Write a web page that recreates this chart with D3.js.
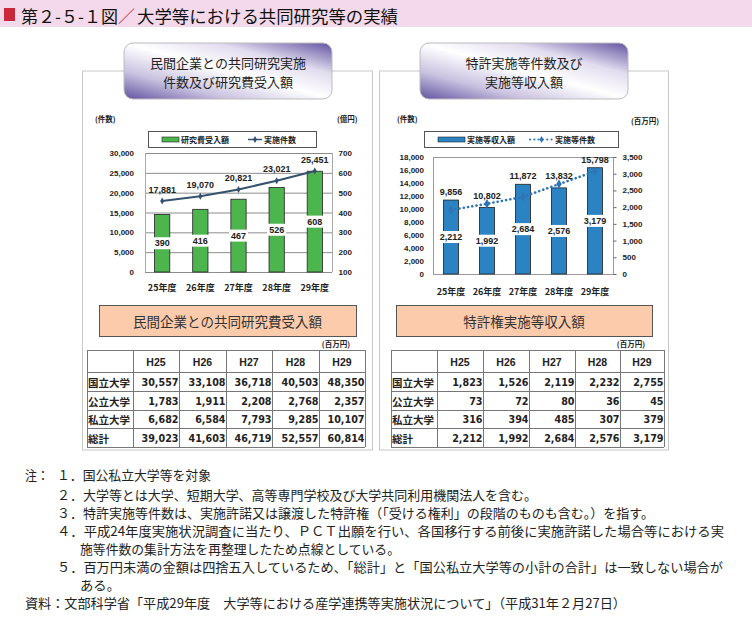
<!DOCTYPE html>
<html><head><meta charset="utf-8">
<script src="https://cdn.jsdelivr.net/npm/d3@7/dist/d3.min.js"></script>
<style>
body{margin:0;background:#fff;}
svg{display:block;}
</style></head>
<body>
<svg id="chart" width="752" height="624"></svg>
<script>
// ---------- DATA ----------
const years = ["25年度","26年度","27年度","28年度","29年度"];
const researchAmount = [390,416,467,526,608];          // 億円 (bars)
const researchCount  = [17881,19070,20821,23021,25451]; // 件数 (line)
const licenseIncome  = [2212,1992,2684,2576,3179];      // 百万円 (bars)
const licenseCount   = [9856,10802,11872,13832,15798];  // 件数 (dotted line)

const leftTicksCount  = [0,5000,10000,15000,20000,25000,30000];
const leftTicksAmount = [100,200,300,400,500,600,700];
const rightTicksCount = [0,2000,4000,6000,8000,10000,12000,14000,16000,18000];
const rightTicksIncome= [0,500,1000,1500,2000,2500,3000,3500];

const tableHeads = ["H25","H26","H27","H28","H29"];
const rowLabels  = ["国立大学","公立大学","私立大学","総計"];
const researchNational = [30557,33108,36718,40503,48350];
const researchPublic   = [1783,1911,2208,2768,2357];
const researchPrivate  = [6682,6584,7793,9285,10107];
const researchTotal    = [39023,41603,46719,52557,60814];
const licenseNational  = [1823,1526,2119,2232,2755];
const licensePublic    = [73,72,80,36,45];
const licensePrivate   = [316,394,485,307,379];
const licenseTotal     = [2212,1992,2684,2576,3179];

const notes = [
  "１．国公私立大学等を対象",
  "２．大学等とは大学、短期大学、高等専門学校及び大学共同利用機関法人を含む。",
  "３．特許実施等件数は、実施許諾又は譲渡した特許権（「受ける権利」の段階のものも含む。）を指す。",
  "４．平成24年度実施状況調査に当たり、ＰＣＴ出願を行い、各国移行する前後に実施許諾した場合等における実",
  "施等件数の集計方法を再整理したため点線としている。",
  "５．百万円未満の金額は四捨五入しているため、「総計」と「国公私立大学等の小計の合計」は一致しない場合が",
  "ある。"
];
const source = "資料：文部科学省「平成29年度　大学等における産学連携等実施状況について」（平成31年２月27日）";

// ---------- SETUP ----------
const svg = d3.select("#chart");
const JP = "'Noto Sans CJK JP','Noto Sans',sans-serif";
const NUM = "'Liberation Sans',Arial,sans-serif";
const fmt = d3.format(",");

// header
svg.append("rect").attr("x",0).attr("y",0).attr("width",752).attr("height",27).attr("fill","#f3d9ea");
svg.append("rect").attr("x",4).attr("y",8).attr("width",11).attr("height",13).attr("fill","#c9283d");
svg.append("text").attr("x",21).attr("y",15).attr("dominant-baseline","central")
  .attr("font-family",JP).attr("font-size",17).attr("fill","#111")
  .attr("textLength",97).attr("lengthAdjust","spacingAndGlyphs").text("第２-５-１図");
svg.append("text").attr("x",118).attr("y",15).attr("dominant-baseline","central")
  .attr("font-family",JP).attr("font-size",17).attr("fill","#d0283c").text("／");
svg.append("text").attr("x",137).attr("y",15).attr("dominant-baseline","central")
  .attr("font-family",JP).attr("font-size",17).attr("fill","#111")
  .attr("textLength",261).attr("lengthAdjust","spacingAndGlyphs").text("大学等における共同研究等の実績");

// gradient for title boxes
const defs = svg.append("defs");
const g = defs.append("linearGradient").attr("id","tgrad").attr("x1","0").attr("y1","1").attr("x2","1").attr("y2","0");
[[0,"#6252a0"],[0.25,"#c9c2e0"],[0.5,"#ffffff"],[0.72,"#e2ddef"],[1,"#6252a0"]].forEach(s=>
  g.append("stop").attr("offset",s[0]).attr("stop-color",s[1]));

// panels
function panel(x,w){
  svg.append("rect").attr("x",x).attr("y",71).attr("width",w).attr("height",379)
    .attr("fill","#fff").attr("stroke","#c8c8c8").attr("stroke-width",1);
}
panel(82.5,290); panel(379.5,289);

function titleBox(x,lines){
  svg.append("rect").attr("x",x).attr("y",43).attr("width",208).attr("height",56).attr("rx",9)
    .attr("fill","url(#tgrad)").attr("stroke","#bdbdbd");
  lines.forEach((s,i)=>svg.append("text").attr("x",x+104).attr("y",62+i*19)
    .attr("text-anchor","middle").attr("dominant-baseline","central")
    .attr("font-family",JP).attr("font-size",13).attr("fill","#222").text(s));
}
titleBox(124,["民間企業との共同研究実施","件数及び研究費受入額"]);
titleBox(420,["特許実施等件数及び","実施等収入額"]);

// ---------- CHART FUNCTION ----------
function drawChart(o){
  const x = d3.scaleBand().domain(years).range([o.x0,o.x1]).paddingInner(o.pi).paddingOuter(o.po);
  const yL = d3.scaleLinear().domain(o.lDomain).range([o.y1,o.y0]);
  const yR = d3.scaleLinear().domain(o.rDomain).range([o.y1,o.y0]);
  const cg = svg.append("g");

  if(o.grid){
    cg.selectAll(".grid").data(o.lTicks).join("line")
      .attr("x1",o.x0).attr("x2",o.x1).attr("y1",d=>yL(d)+0.5).attr("y2",d=>yL(d)+0.5)
      .attr("stroke","#8c8c8c").attr("stroke-width",1);
    cg.append("line").attr("x1",o.x0+0.5).attr("x2",o.x0+0.5).attr("y1",o.y0).attr("y2",o.y1).attr("stroke","#aaa");
    cg.append("line").attr("x1",o.x1+0.5).attr("x2",o.x1+0.5).attr("y1",o.y0).attr("y2",o.y1).attr("stroke","#aaa");
  } else {
    cg.append("rect").attr("x",o.x0+0.5).attr("y",o.y0+0.5).attr("width",o.x1-o.x0).attr("height",o.y1-o.y0)
      .attr("fill","none").attr("stroke","#9a9a9a");
  }

  const axL = d3.axisLeft(yL).tickValues(o.lTicks).tickFormat(fmt).tickSize(0).tickPadding(0);
  const gl = cg.append("g").attr("transform",`translate(${o.lLabX},0)`).call(axL);
  gl.select(".domain").remove();
  gl.selectAll("text").attr("font-family",NUM).attr("font-weight","bold").attr("font-size",8).attr("fill","#222");
  const axR = d3.axisRight(yR).tickValues(o.rTicks).tickFormat(fmt).tickSize(o.rTickSize).tickPadding(o.rPad);
  const gr = cg.append("g").attr("transform",`translate(${o.x1+0.5},0)`).call(axR);
  gr.select(".domain").remove();
  gr.selectAll("line").attr("stroke","#666");
  gr.selectAll("text").attr("font-family",NUM).attr("font-weight","bold").attr("font-size",8).attr("fill","#222");

  // bars
  cg.selectAll(".bar").data(o.bars).join("rect")
    .attr("x",(d,i)=>x(years[i])).attr("width",x.bandwidth())
    .attr("y",d=>yR(d)).attr("height",d=>o.y1-yR(d))
    .attr("fill",o.barColor).attr("stroke","#222").attr("stroke-width",0.8);

  // line
  const line = d3.line().x((d,i)=>x(years[i])+x.bandwidth()/2).y(d=>yL(d));
  cg.append("path").datum(o.line).attr("d",line).attr("fill","none")
    .attr("stroke",o.lineColor).attr("stroke-width",o.lineWidth)
    .attr("stroke-dasharray",o.dash||null).attr("stroke-linecap",o.dash?"round":"butt");
  const sym = d3.symbol().type(d3.symbolDiamond).size(o.markSize);
  cg.selectAll(".mk").data(o.line).join("path")
    .attr("transform",(d,i)=>`translate(${x(years[i])+x.bandwidth()/2},${yL(d)})`)
    .attr("d",sym).attr("fill",o.lineColor);

  // bar labels (white background)
  o.bars.forEach((d,i)=>{
    const cx = x(years[i])+x.bandwidth()/2, cy=(yR(d)+o.y1)/2;
    const t = cg.append("text").attr("x",cx).attr("y",cy).attr("text-anchor","middle")
      .attr("dominant-baseline","central").attr("font-family",NUM).attr("font-weight","bold")
      .attr("font-size",9).attr("fill","#222").text(fmt(d));
    const bb = t.node().getBBox();
    cg.insert("rect",()=>t.node()).attr("x",bb.x-2).attr("y",bb.y-1).attr("width",bb.width+4).attr("height",bb.height+2).attr("fill","#fff");
  });
  // line labels: above the higher of point / bar top
  o.line.forEach((d,i)=>{
    const cx = x(years[i])+x.bandwidth()/2;
    const top = o.lblAboveBar ? Math.min(yL(d), yR(o.bars[i])) : yL(d);
    cg.append("text").attr("x",cx).attr("y",top-o.lblOff).attr("text-anchor","middle")
      .attr("dominant-baseline","central").attr("font-family",NUM).attr("font-weight","bold")
      .attr("font-size",9).attr("fill","#222").text(fmt(d));
  });
  years.forEach((c,i)=>cg.append("text").attr("x",x(c)+x.bandwidth()/2).attr("y",o.catY)
    .attr("text-anchor","middle").attr("dominant-baseline","central")
    .attr("font-family",JP).attr("font-weight","bold").attr("font-size",9).attr("fill","#222").text(c));

  cg.append("text").attr("x",o.uL[0]).attr("y",o.uL[1]).attr("dominant-baseline","central")
    .attr("font-family",JP).attr("font-weight","bold").attr("font-size",7.5).attr("fill","#222").text(o.uL[2]);
  cg.append("text").attr("x",o.uR[0]).attr("y",o.uR[1]).attr("dominant-baseline","central")
    .attr("font-family",JP).attr("font-weight","bold").attr("font-size",7.5).attr("fill","#222").text(o.uR[2]);

  const L=o.leg;
  cg.append("rect").attr("x",L.x+0.5).attr("y",L.y+0.5).attr("width",L.w).attr("height",16).attr("fill","#fff").attr("stroke","#555");
  cg.append("rect").attr("x",L.sx).attr("y",L.y+6).attr("width",L.sw).attr("height",5).attr("fill",o.barColor).attr("stroke","#222").attr("stroke-width",0.6);
  cg.append("text").attr("x",L.sx+L.sw+2).attr("y",L.y+8.5).attr("dominant-baseline","central")
    .attr("font-family",JP).attr("font-weight","bold").attr("font-size",8).attr("fill","#222").text(L.t1);
  cg.append("line").attr("x1",L.lx).attr("x2",L.lx+L.lw).attr("y1",L.y+8.5).attr("y2",L.y+8.5)
    .attr("stroke",o.lineColor).attr("stroke-width",o.lineWidth-0.5).attr("stroke-dasharray",o.dash||null).attr("stroke-linecap",o.dash?"round":"butt");
  cg.append("path").attr("transform",`translate(${L.lx+L.lw/2},${L.y+8.5})`).attr("d",d3.symbol().type(d3.symbolDiamond).size(14)).attr("fill",o.lineColor);
  cg.append("text").attr("x",L.lx+L.lw+2).attr("y",L.y+8.5).attr("dominant-baseline","central")
    .attr("font-family",JP).attr("font-weight","bold").attr("font-size",8).attr("fill","#222").text(L.t2);
}

drawChart({
  x0:145,x1:332,y0:153,y1:272,pi:0.6,po:0.25,
  lDomain:[0,30000],rDomain:[100,700],lTicks:leftTicksCount,rTicks:leftTicksAmount,
  grid:true,lLabX:134,rTickSize:0,rPad:6,
  bars:researchAmount,line:researchCount,barColor:"#4db54d",lineColor:"#34526e",lineWidth:2,markSize:14,
  lblOff:11.5,lblAboveBar:false,catY:287,
  uL:[95,118,"(件数)"],uR:[337,118,"(億円)"],
  leg:{x:148,y:131,w:168,sx:162,sw:17,t1:"研究費受入額",lx:248,lw:14,t2:"実施件数"}
});
drawChart({
  x0:433,x1:613,y0:157,y1:274,pi:0.58,po:0.29,
  lDomain:[0,18000],rDomain:[0,3500],lTicks:rightTicksCount,rTicks:rightTicksIncome,
  grid:false,lLabX:424,rTickSize:3,rPad:6,
  bars:licenseIncome,line:licenseCount,barColor:"#2c83c4",lineColor:"#2e75b6",lineWidth:2.6,markSize:26,dash:"0.1,4.2",
  lblOff:8,lblAboveBar:true,catY:291,
  uL:[397,118,"(件数)"],uR:[631,120,"(百万円)"],
  leg:{x:424,y:131,w:194,sx:438,sw:27,t1:"実施等収入額",lx:530,lw:23,t2:"実施等件数"}
});

// ---------- peach boxes ----------
function peach(x,w,t){
  svg.append("rect").attr("x",x+0.5).attr("y",305.5).attr("width",w).attr("height",31).attr("fill","#fccbac").attr("stroke","#555");
  svg.append("text").attr("x",x+w/2).attr("y",321).attr("text-anchor","middle").attr("dominant-baseline","central")
    .attr("font-family",JP).attr("font-size",13.5).attr("fill","#333").text(t);
}
peach(99,257,"民間企業との共同研究費受入額");
peach(396,256,"特許権実施等収入額");

// ---------- tables ----------
function table(x0,cols,rows,unitX){
  const rowY=[350,372,391,410,428,447];
  const tg=svg.append("g");
  tg.append("text").attr("x",unitX).attr("y",343).attr("text-anchor","end").attr("dominant-baseline","central")
    .attr("font-family",JP).attr("font-weight","bold").attr("font-size",7.5).attr("fill","#222").text("(百万円)");
  rowY.forEach(y=>tg.append("line").attr("x1",cols[0]).attr("x2",cols[cols.length-1]).attr("y1",y+0.5).attr("y2",y+0.5).attr("stroke","#777"));
  cols.forEach(c=>tg.append("line").attr("x1",c+0.5).attr("x2",c+0.5).attr("y1",rowY[0]).attr("y2",rowY[5]).attr("stroke","#777"));
  tableHeads.forEach((h,j)=>tg.append("text").attr("x",(cols[j+1]+cols[j+2])/2).attr("y",(rowY[0]+rowY[1])/2+1)
    .attr("text-anchor","middle").attr("dominant-baseline","central").attr("font-family",NUM).attr("font-weight","bold")
    .attr("font-size",10.5).attr("fill","#222").text(h));
  rows.forEach((r,i)=>{
    const cy=(rowY[i+1]+rowY[i+2])/2+0.5;
    tg.append("text").attr("x",cols[0]+1).attr("y",cy).attr("dominant-baseline","central")
      .attr("font-family",JP).attr("font-weight","bold").attr("font-size",10.5).attr("fill","#222").text(rowLabels[i]);
    r.forEach((v,j)=>tg.append("text").attr("x",cols[j+2]-0.5).attr("y",cy).attr("text-anchor","end").attr("dominant-baseline","central")
      .attr("font-family","'DejaVu Sans',sans-serif").attr("font-weight","bold").attr("font-size",9.6).attr("fill","#222").text(fmt(v)));
  });
}
table(87,[87,133,179,226,272,319,365],[researchNational,researchPublic,researchPrivate,researchTotal],350);
table(391,[391,437,483,529,575,620,664],[licenseNational,licensePublic,licensePrivate,licenseTotal],645);

// ---------- notes ----------
const ng=svg.append("g").attr("font-family",JP).attr("font-size",13).attr("fill","#222");
function nt(x,y,t,len){
  const e=ng.append("text").attr("x",x).attr("y",y).attr("dominant-baseline","central").text(t);
  if(len) e.attr("textLength",len).attr("lengthAdjust","spacingAndGlyphs");
}
nt(25,474,"注：",24);
// [x, y, note index, end x]
const noteRows=[[57,474,0,211],[57,494,1,537],[57,512,2,654],[57,530,3,724],[80,548,4,400],[57,566,5,723],[80,584,6,120]];
noteRows.forEach(r=>nt(r[0],r[1],notes[r[2]],r[3]-r[0]));
nt(25,602,source,601);
</script>
</body></html>
